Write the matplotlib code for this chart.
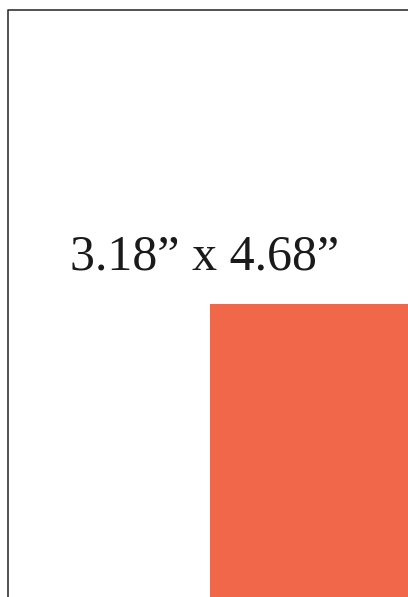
import matplotlib
matplotlib.use("Agg")
import matplotlib.pyplot as plt
from matplotlib.patches import Rectangle

# Data
label_text = "3.18\u201d x 4.68\u201d"
page_w, page_h = 408, 597
block_x = [210, 408]
block_y = [304, 597]
frame_x = [8, 408]
frame_y = [9.5, 597]
color_block = "#F0674A"

fig = plt.figure(figsize=(4.08, 5.97), dpi=100)
ax = fig.add_axes([0, 0, 1, 1])
ax.set_xlim(0, page_w)
ax.set_ylim(page_h, 0)
ax.axis("off")

ax.plot([frame_x[0], frame_x[0], frame_x[1]], [frame_y[1], frame_y[0], frame_y[0]],
        color="#333333", lw=1.2, solid_capstyle="butt")
ax.add_patch(Rectangle((block_x[0], block_y[0]), block_x[1] - block_x[0],
                       block_y[1] - block_y[0], color=color_block, lw=0))
ax.text(204.5, 270, label_text, family="Liberation Serif", fontsize=36,
        color="#1a1a1a", ha="center", va="baseline")

fig.savefig("out.png", dpi=100)
